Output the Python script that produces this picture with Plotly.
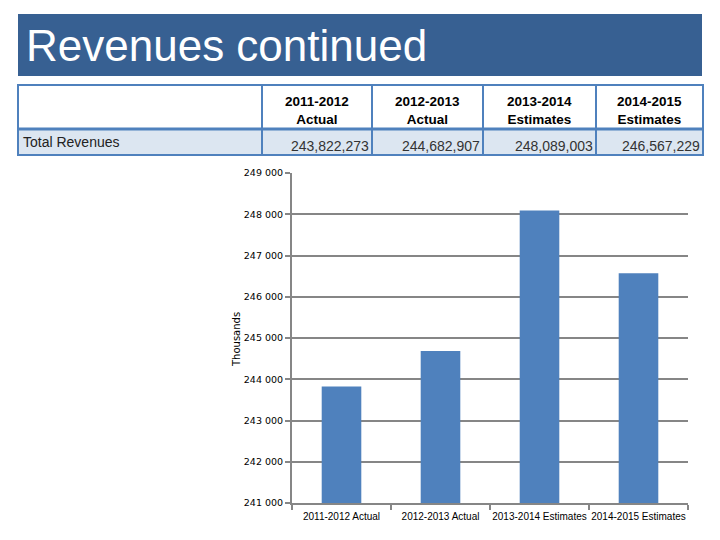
import plotly.graph_objects as go

W, H = 720, 540

categories = ["2011-2012 Actual", "2012-2013 Actual", "2013-2014 Estimates", "2014-2015 Estimates"]
header_line1 = ["2011-2012", "2012-2013", "2013-2014", "2014-2015"]
header_line2 = ["Actual", "Actual", "Estimates", "Estimates"]
revenues = [243822273, 244682907, 248089003, 246567229]
row_label = "Total Revenues"
title_text = "Revenues continued"

values_thousands = [v / 1000 for v in revenues]


def px(x):
    return x / W


def py(y):
    return 1 - y / H


fig = go.Figure()
fig.add_trace(go.Bar(
    x=categories, y=values_thousands,
    marker=dict(color="#4f81bd", line=dict(width=0)),
    hoverinfo="skip",
))

shapes = []
annotations = []

# Title banner
shapes.append(dict(type="rect", xref="paper", yref="paper",
                   x0=px(18), x1=px(702), y0=py(76), y1=py(14),
                   fillcolor="#376092", line=dict(width=0), layer="below"))
annotations.append(dict(xref="paper", yref="paper", x=px(24), y=py(46),
                        text=title_text, showarrow=False, xanchor="left", yanchor="middle",
                        font=dict(family="Liberation Sans, Arial", size=44, color="white")))

# Table
col_edges = [18, 262, 372, 483, 596, 703]
t_top, t_mid, t_bot = 85, 129, 155
border = "#4f81bd"
shapes.append(dict(type="rect", xref="paper", yref="paper",
                   x0=px(col_edges[0]), x1=px(col_edges[-1]), y0=py(t_bot), y1=py(t_mid),
                   fillcolor="#dce6f1", line=dict(width=0), layer="below"))
shapes.append(dict(type="rect", xref="paper", yref="paper",
                   x0=px(col_edges[0]), x1=px(col_edges[-1]), y0=py(t_bot), y1=py(t_top),
                   fillcolor="rgba(0,0,0,0)", line=dict(color=border, width=2)))
shapes.append(dict(type="line", xref="paper", yref="paper",
                   x0=px(col_edges[0]), x1=px(col_edges[-1]), y0=py(t_mid), y1=py(t_mid),
                   line=dict(color=border, width=3)))
for e in col_edges[1:-1]:
    shapes.append(dict(type="line", xref="paper", yref="paper",
                       x0=px(e), x1=px(e), y0=py(t_bot), y1=py(t_top),
                       line=dict(color=border, width=2)))

tfont = "Liberation Sans, Arial"
for i, (l1, l2) in enumerate(zip(header_line1, header_line2)):
    cx = (col_edges[i + 1] + col_edges[i + 2]) / 2
    annotations.append(dict(xref="paper", yref="paper", x=px(cx), y=py(111),
                            text="<b>" + l1 + "</b><br><b>" + l2 + "</b>", showarrow=False,
                            xanchor="center", yanchor="middle", align="center",
                            font=dict(family=tfont, size=13.5, color="black")))
    annotations.append(dict(xref="paper", yref="paper", x=px(col_edges[i + 2] - 1), y=py(146),
                            text=f"{revenues[i]:,}", showarrow=False,
                            xanchor="right", yanchor="middle",
                            font=dict(family=tfont, size=14, color="#333333")))
annotations.append(dict(xref="paper", yref="paper", x=px(21), y=py(142),
                        text=row_label, showarrow=False, xanchor="left", yanchor="middle",
                        font=dict(family=tfont, size=14, color="#222222")))

# Y axis title
annotations.append(dict(xref="paper", yref="paper", x=px(236), y=py(340),
                        text="Thousands", showarrow=False, textangle=-90,
                        xanchor="center", yanchor="middle",
                        font=dict(family="DejaVu Sans, Verdana", size=10, color="black")))

fig.update_layout(
    width=W, height=H,
    margin=dict(l=0, r=0, t=0, b=0),
    paper_bgcolor="white", plot_bgcolor="white",
    separators=". ",
    showlegend=False,
    bargap=0.6,
    shapes=shapes,
    annotations=annotations,
    xaxis=dict(domain=[px(292), px(688)], showline=True, linecolor="#868686", linewidth=2,
               ticks="outside", tickson="boundaries", ticklen=5, tickcolor="#868686", tickwidth=2,
               showgrid=False, automargin=False, tickangle=0, ticklabelstandoff=3,
               tickfont=dict(family="Liberation Sans, Arial", size=10, color="black")),
    yaxis=dict(domain=[py(503), py(173)], range=[241000, 249000], dtick=1000,
               tickformat=",d", showline=True, linecolor="#868686", linewidth=2,
               ticks="outside", ticklen=5, tickcolor="#868686", tickwidth=2,
               showgrid=True, gridcolor="#868686", gridwidth=2, zeroline=False,
               automargin=False,
               tickfont=dict(family="DejaVu Sans, Verdana", size=9.5, color="black")),
)

fig.write_html("out.html", config={"displayModeBar": False},
               post_script="document.body.style.margin='0';document.body.style.overflow='hidden';")
